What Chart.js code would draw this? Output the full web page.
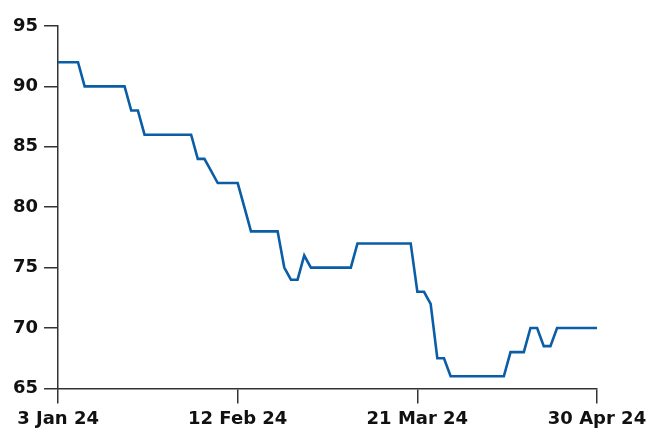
<!DOCTYPE html>
<html lang="en">
<head>
    <meta charset="UTF-8">
    <title>Price chart</title>
    <script src="https://cdn.jsdelivr.net/npm/chart.js"></script>
    <style>
        html, body { margin: 0; padding: 0; background: #fff; }
        #wrap { width: 660px; height: 428px; }
    </style>
</head>
<body>
    <div id="wrap">
        <canvas id="priceChart"></canvas>
    </div>
    <script>
        // trading days, 3 Jan 24 .. 30 Apr 24
        const dates = [
            '3 Jan 24', '4 Jan 24', '5 Jan 24', '8 Jan 24', '9 Jan 24', '10 Jan 24', '11 Jan 24', '12 Jan 24',
            '16 Jan 24', '17 Jan 24', '18 Jan 24', '19 Jan 24', '22 Jan 24', '23 Jan 24', '24 Jan 24', '25 Jan 24',
            '26 Jan 24', '29 Jan 24', '30 Jan 24', '31 Jan 24',
            '1 Feb 24', '2 Feb 24', '5 Feb 24', '6 Feb 24', '7 Feb 24', '8 Feb 24', '9 Feb 24', '12 Feb 24',
            '13 Feb 24', '14 Feb 24', '15 Feb 24', '16 Feb 24', '20 Feb 24', '21 Feb 24', '22 Feb 24', '23 Feb 24',
            '26 Feb 24', '27 Feb 24', '28 Feb 24', '29 Feb 24',
            '1 Mar 24', '4 Mar 24', '5 Mar 24', '6 Mar 24', '7 Mar 24', '8 Mar 24', '11 Mar 24', '12 Mar 24',
            '13 Mar 24', '14 Mar 24', '15 Mar 24', '18 Mar 24', '19 Mar 24', '20 Mar 24', '21 Mar 24', '22 Mar 24',
            '25 Mar 24', '26 Mar 24', '27 Mar 24', '28 Mar 24',
            '1 Apr 24', '2 Apr 24', '3 Apr 24', '4 Apr 24', '5 Apr 24', '8 Apr 24', '9 Apr 24', '10 Apr 24',
            '11 Apr 24', '12 Apr 24', '15 Apr 24', '16 Apr 24', '17 Apr 24', '18 Apr 24', '19 Apr 24', '22 Apr 24',
            '23 Apr 24', '24 Apr 24', '25 Apr 24', '26 Apr 24', '29 Apr 24', '30 Apr 24'
        ];

        const prices = [
            92, 92, 92, 92, 90, 90, 90, 90, 90, 90, 90, 88, 88, 86, 86, 86,
            86, 86, 86, 86, 86, 84, 84, 83, 82, 82, 82, 82, 80, 78, 78, 78,
            78, 78, 75, 74, 74, 76, 75, 75, 75, 75, 75, 75, 75, 77, 77, 77,
            77, 77, 77, 77, 77, 77, 73, 73, 72, 67.5, 67.5, 66, 66, 66, 66, 66,
            66, 66, 66, 66, 68, 68, 68, 70, 70, 68.5, 68.5, 70, 70, 70, 70, 70,
            70, 70
        ];

        const yTicks = [65, 70, 75, 80, 85, 90, 95];
        const labelEvery = 27;

        const font = { family: 'DejaVu Sans', size: 18, weight: 'bold' };
        const axisColor = '#333';

        new Chart(document.getElementById('priceChart'), {
            type: 'line',
            data: {
                labels: dates,
                datasets: [{
                    data: prices,
                    borderColor: '#0b5ea6',
                    borderWidth: 2.6,
                    pointRadius: 0,
                    tension: 0,
                    fill: false
                }]
            },
            options: {
                responsive: true,
                maintainAspectRatio: false,
                animation: false,
                layout: { padding: { left: 7, right: 63, top: 26, bottom: -7 } },
                plugins: {
                    legend: { display: false },
                    tooltip: { enabled: false }
                },
                scales: {
                    x: {
                        afterBuildTicks: axis => {
                            axis.ticks = axis.ticks.filter(t => t.value % labelEvery === 0);
                        },
                        ticks: {
                            autoSkip: false,
                            maxRotation: 0,
                            padding: 5,
                            color: '#111',
                            font: font
                        },
                        grid: { drawOnChartArea: false, tickLength: 15, color: axisColor, lineWidth: 1.5 },
                        border: { color: axisColor, width: 1.5 }
                    },
                    y: {
                        min: yTicks[0],
                        max: yTicks[yTicks.length - 1],
                        afterBuildTicks: axis => {
                            axis.ticks = yTicks.map(v => ({ value: v }));
                        },
                        ticks: {
                            padding: 6,
                            color: '#111',
                            font: font
                        },
                        grid: { drawOnChartArea: false, tickLength: 14, color: axisColor, lineWidth: 1.5 },
                        border: { color: axisColor, width: 1.5 }
                    }
                }
            }
        });
    </script>
</body>
</html>
